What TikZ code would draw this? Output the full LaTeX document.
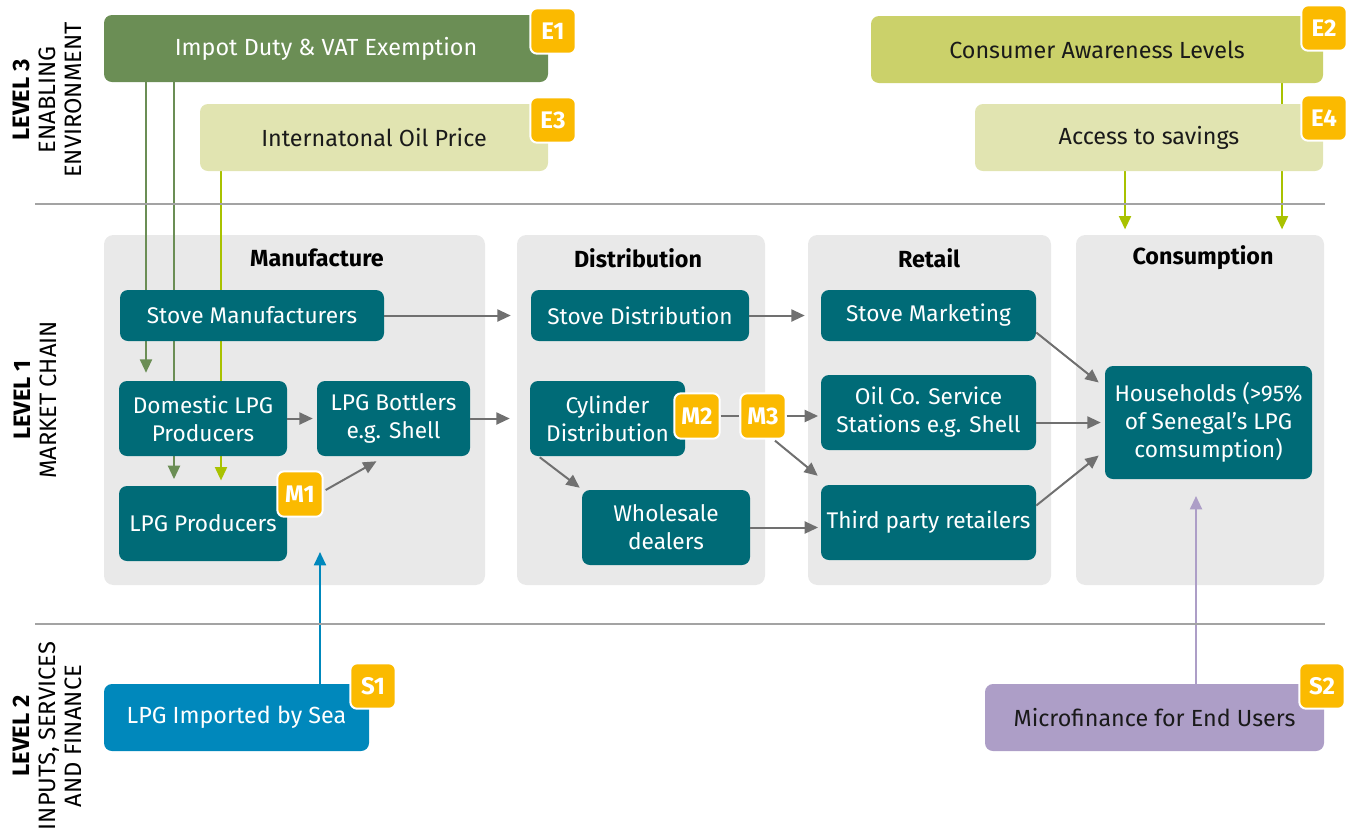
\documentclass[tikz,border=0pt]{standalone}
\usepackage{fontspec}
\setmainfont{Fira Sans}
\usetikzlibrary{arrows.meta,calc}
\definecolor{eone}{HTML}{6B8E55}
\definecolor{etwo}{HTML}{CBD16A}
\definecolor{elight}{HTML}{E1E4B1}
\definecolor{tealbox}{HTML}{006B77}
\definecolor{panelgrey}{HTML}{E9E9E9}
\definecolor{badgey}{HTML}{FBBA00}
\definecolor{sblue}{HTML}{0088BC}
\definecolor{spurple}{HTML}{AD9EC7}
\definecolor{arrgrey}{HTML}{707070}
\definecolor{sepgrey}{HTML}{A3A3A3}
\definecolor{ygreen}{HTML}{A9C200}
\definecolor{darktext}{HTML}{1A1A1A}
\pgfdeclarelayer{bg}
\pgfsetlayers{bg,main}
\begin{document}
\begin{tikzpicture}[x=0.75pt,y=-0.75pt,
  wh/.style 2 args={minimum width=#1*0.75pt, minimum height=#2*0.75pt},
  ebox/.style={rounded corners=6pt, inner sep=0pt, align=center, font=\fontsize{17.5}{21}\selectfont},
  tbox/.style={fill=tealbox, rounded corners=6pt, inner sep=0pt, align=center, text=white, font=\fontsize{17}{21}\selectfont},
  badge/.style={fill=badgey, draw=white, line width=1.5pt, rounded corners=5pt, minimum size=34pt, inner sep=0pt, text=white, font=\bfseries\fontsize{18}{18}\selectfont},
  panel/.style={fill=panelgrey, rounded corners=7pt, inner sep=0pt},
  ptitle/.style={font=\bfseries\fontsize{17.5}{20}\selectfont},
  lvl/.style={rotate=90, align=center, font=\fontsize{17.8}{19.5}\selectfont},
  arr/.style={draw=arrgrey, line width=1.5pt, -{Triangle[length=10pt,width=9pt]}},
  garr/.style={draw=eone, line width=1.5pt, shorten >=5pt, -{Triangle[length=10pt,width=9pt]}},
  yarr/.style={draw=ygreen, line width=1.5pt, shorten >=4pt, -{Triangle[length=10pt,width=9pt]}},
  barr/.style={draw=sblue, line width=1.5pt, -{Triangle[length=10pt,width=9pt]}},
  parr/.style={draw=spurple, line width=1.5pt, -{Triangle[length=10pt,width=9pt]}},
  sep/.style={draw=sepgrey, line width=2.2pt}]
\useasboundingbox (0,0) rectangle (1351,833);

% level labels
\node[lvl] (l3) at (47,100) {\textbf{LEVEL 3}\\ENABLING\\ENVIRONMENT};
\node[lvl] (l1) at (35,400) {\textbf{LEVEL 1}\\MARKET CHAIN};
\node[lvl] (l2) at (47,736) {\textbf{LEVEL 2}\\INPUTS, SERVICES\\AND FINANCE};

% separators
\draw[sep] (35,204) -- (1325,204);
\draw[sep] (35,624) -- (1325,624);

% enabling environment
\node[ebox, fill=eone, text=white, wh={444}{67}] (e1) at (326,48.5) {Impot Duty \& VAT Exemption};
\node[ebox, fill=elight, text=darktext, wh={348}{67}] (e3) at (374,137.5) {Internatonal Oil Price};
\node[ebox, fill=etwo, text=darktext, wh={452}{67}] (e2) at (1097,49.5) {Consumer Awareness Levels};
\node[ebox, fill=elight, text=darktext, wh={348}{67}] (e4) at (1149,137.5) {Access to savings};
\node[badge] (be1) at (553,31) {E1};
\node[badge] (be3) at (553,120) {E3};
\node[badge] (be2) at (1324,28) {E2};
\node[badge] (be4) at (1324,118) {E4};

% panels
\begin{pgfonlayer}{bg}
\node[panel, wh={381}{350}] (pman) at (294.5,410) {};
\node[panel, wh={248}{350}] (pdis) at (641,410) {};
\node[panel, wh={243}{350}] (pret) at (929.5,410) {};
\node[panel, wh={248}{350}] (pcon) at (1200,410) {};
\end{pgfonlayer}
\node[ptitle] (tman) at (317,258) {Manufacture};
\node[ptitle] (tdis) at (638,258) {Distribution};
\node[ptitle] (tret) at (929,258) {Retail};
\node[ptitle] (tcon) at (1203,258) {Consumption};

% market chain boxes
\node[tbox, wh={264}{51}] (sm) at (252,315.5) {Stove Manufacturers};
\node[tbox, wh={168}{75}] (dom) at (203,418.5) {Domestic LPG\\Producers};
\node[tbox, wh={153}{75}] (bot) at (393.5,418.5) {LPG Bottlers\\e.g. Shell};
\node[tbox, wh={168}{75}] (prod) at (203,523.5) {LPG Producers};
\node[tbox, wh={218}{51}] (sd) at (640,315.5) {Stove Distribution};
\node[tbox, wh={155}{75}] (cyl) at (607.5,418.5) {Cylinder\\Distribution};
\node[tbox, wh={168}{75}] (whs) at (666,527.5) {Wholesale\\dealers};
\node[tbox, wh={215}{51}] (smk) at (928.5,315.5) {Stove Marketing};
\node[tbox, wh={215}{75}] (oil) at (928.5,412.5) {Oil Co. Service\\Stations e.g. Shell};
\node[tbox, wh={215}{75}] (tpr) at (928.5,522.5) {Third party retailers};
\node[tbox, wh={207}{113}] (hh) at (1208.5,422.5) {Households (>95\%\\of Senegal’s LPG\\comsumption)};
\node[badge] (m1) at (300,494) {M1};
\node[badge] (m2) at (697,416) {M2};
\node[badge] (m3) at (763,416) {M3};

% inputs
\node[ebox, fill=sblue, text=white, wh={265}{67}] (s1) at (236.5,717.5) {LPG Imported by Sea};
\node[ebox, fill=spurple, text=darktext, wh={339}{67}] (s2) at (1154.5,717.5) {Microfinance for End Users};
\node[badge] (bs1) at (373,686) {S1};
\node[badge] (bs2) at (1322,686) {S2};

% helper coordinates
\coordinate (xa) at (146,0);
\coordinate (xb) at (174,0);
\coordinate (xc) at (221,0);
\coordinate (xd) at (1125,0);
\coordinate (xe) at (1282,0);
\coordinate (xs1) at (320,0);
\coordinate (xs2) at (1196,0);
\coordinate (s1end) at (320,552);
\coordinate (s2end) at (1196,496);

\begin{pgfonlayer}{bg}
\draw[garr, shorten >=6pt] (xa |- e1.south) -- (xa |- dom.north);
\draw[garr] (xb |- e1.south) -- (xb |- prod.north);
\draw[yarr] (xc |- e3.south) -- (xc |- prod.north);
\draw[yarr] (xd |- e4.south) -- (xd |- pcon.north);
\draw[yarr] (xe |- e2.south) -- (xe |- pcon.north);
\draw[barr] (xs1 |- s1.north) -- (s1end);
\draw[parr] (xs2 |- s2.north) -- (s2end);
\end{pgfonlayer}

\draw[arr, shorten >=15pt] (sm.east) -- (sd.west);
\draw[arr, shorten >=3pt] (dom.east) -- (bot.west);
\draw[arr, shorten >=15pt] (bot.east) -- (cyl.west);
\draw[arr] ($(m1.east)+(2,-4)$) -- ($(bot.south)+(-17,5)$);
\draw[arr, shorten >=12pt] (sd.east) -- (smk.west);
\draw[arr] ($(cyl.south west)+(10,1)$) -- ($(whs.north west)+(-2,-2)$);
\draw[draw=arrgrey, line width=1.5pt] (m2.east) -- (m3.west);
\draw[arr, shorten >=2pt] (m3.east) -- (m3.east -| oil.west);
\draw[arr] ($(m3.south)+(12,1)$) -- ($(tpr.north west)+(-3,-9)$);
\draw[arr, shorten >=2pt] (whs.east) -- (whs.east -| tpr.west);
\draw[arr] ($(smk.east)+(0,17)$) -- ($(hh.west)+(-6,-40)$);
\draw[arr, shorten >=3pt] (oil.east |- hh.west) -- (hh.west);
\draw[arr] ($(tpr.east)+(0,-17)$) -- ($(hh.west)+(-6,33)$);
\end{tikzpicture}
\end{document}
